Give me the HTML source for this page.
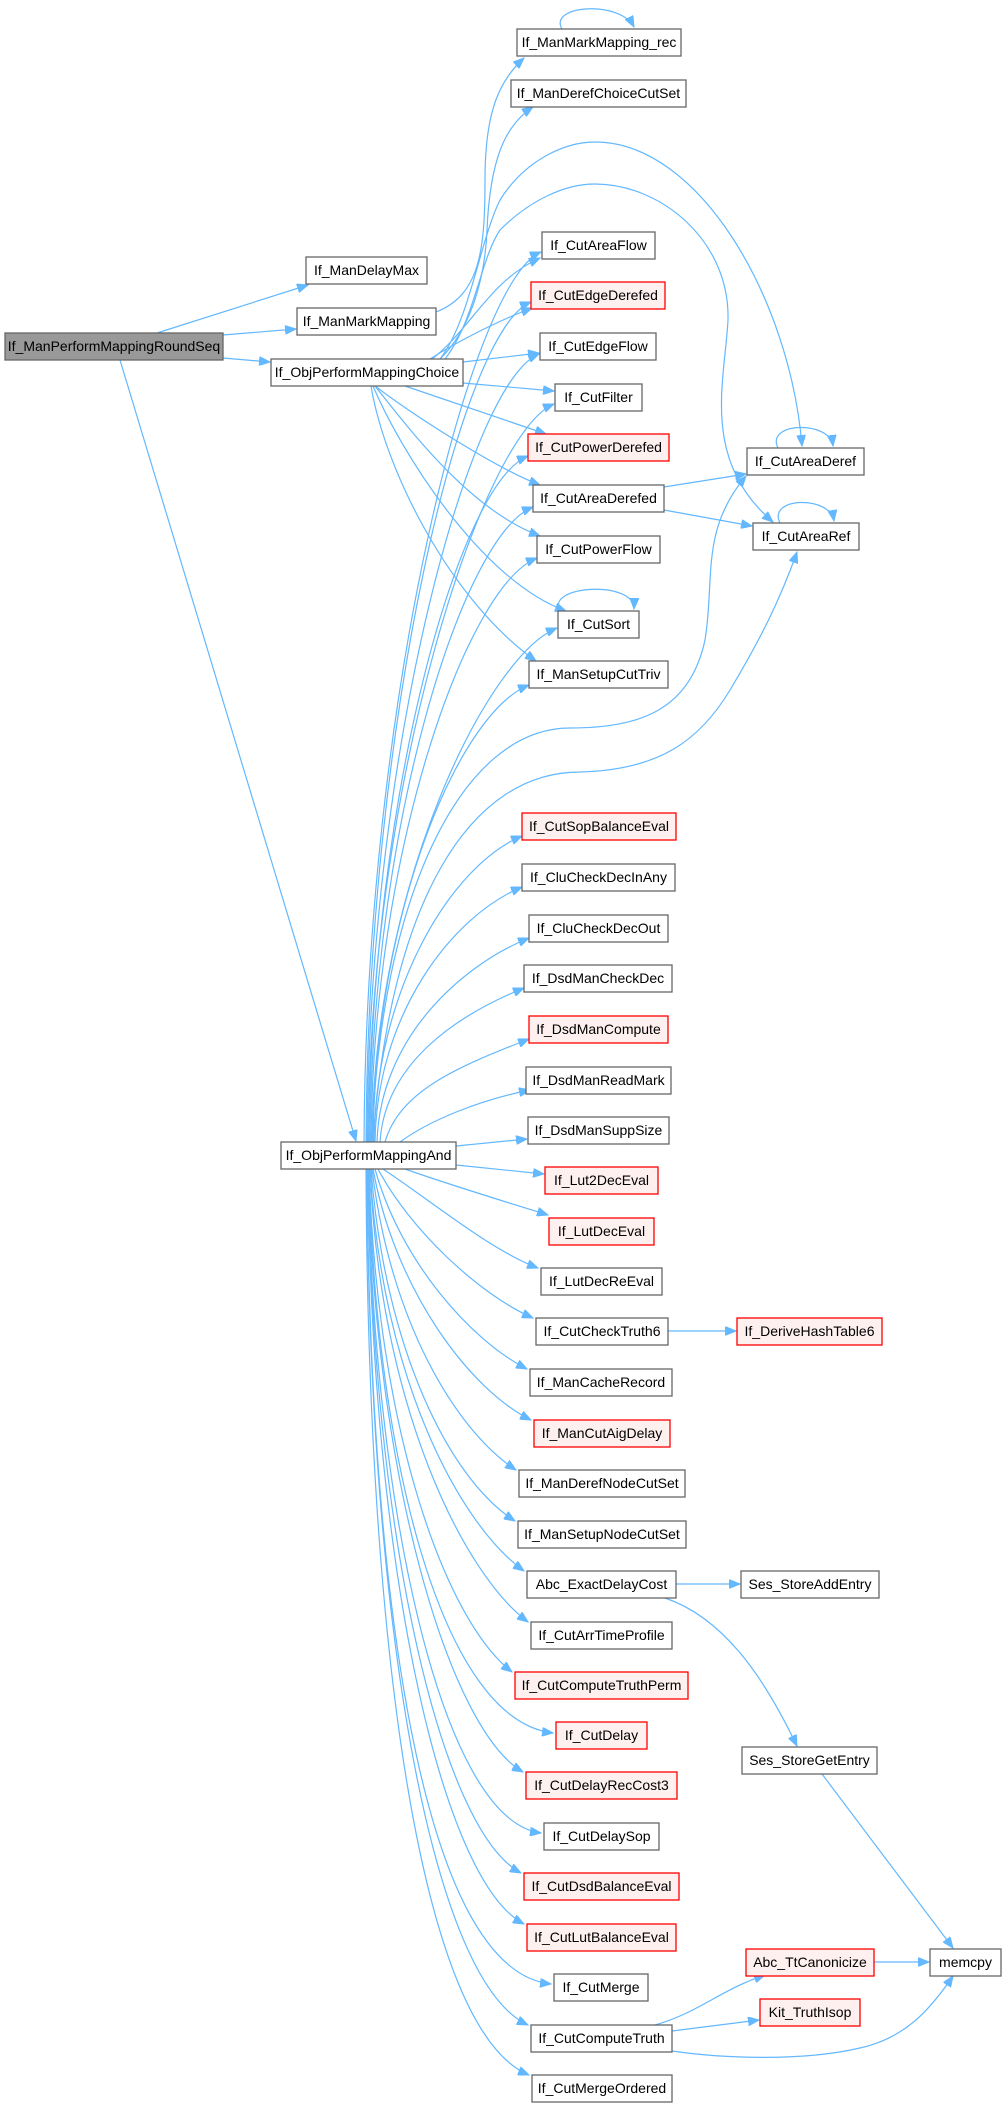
<!DOCTYPE html>
<html><head><meta charset="utf-8"><style>
html,body{margin:0;padding:0;background:#fff;}
svg{display:block;}
text{font-family:"Liberation Sans",Arial,sans-serif;font-size:14px;fill:#000;text-anchor:middle;}
.e{fill:none;stroke:#63b8ff;stroke-width:1.2;marker-end:url(#a);}
.n{fill:#fff;stroke:#666;stroke-width:1.3;}
.r{fill:#fff0f0;stroke:#ff0000;stroke-width:1.3;}
.g{fill:#999;stroke:#666;stroke-width:1.3;}
</style></head><body>
<svg width="1002" height="2112" viewBox="0 0 1002 2112" xmlns="http://www.w3.org/2000/svg">
<defs><marker id="a" markerUnits="userSpaceOnUse" markerWidth="12" markerHeight="9" refX="11" refY="4.5" orient="auto"><path d="M0,0 L11,4.5 L0,9 z" fill="#63b8ff" stroke="#63b8ff"/></marker></defs>

<!-- edges -->
<path class="e" d="M157,333 L308,285"/>
<path class="e" d="M223,335 L296,329"/>
<path class="e" d="M223,358 L270,362"/>
<path class="e" d="M120,360 L356,1141"/>
<path class="e" d="M436,312 C480,295 485,250 485,180 C485,110 500,80 524,58"/>
<path class="e" d="M562,29 C548,5 620,0 634,27"/>
<path class="e" d="M440,359 C470,330 485,280 487,230 C490,160 505,125 533,107"/>
<path class="e" d="M432,359 C470,330 490,280 540,258"/>
<path class="e" d="M430,359 C460,340 500,320 532,308"/>
<path class="e" d="M463,362 L539,353"/>
<path class="e" d="M463,383 L554,391"/>
<path class="e" d="M405,386 L546,434"/>
<path class="e" d="M375,386 C420,420 500,470 540,485"/>
<path class="e" d="M375,386 C410,430 470,510 540,536"/>
<path class="e" d="M373,386 C400,450 480,580 566,611"/>
<path class="e" d="M371,386 C385,470 450,600 536,661"/>
<path class="e" d="M440,359 C470,320 480,240 500,200 C525,160 565,142 595,142 C700,142 790,300 802,446"/>
<path class="e" d="M445,359 C475,320 480,260 500,230 C530,200 565,184 595,184 C660,184 730,240 728,320 C725,380 700,460 773,522"/>
<path class="e" d="M664,487 L746,474"/>
<path class="e" d="M664,510 L752,526"/>
<path class="e" d="M778,448 C765,422 830,420 833,446"/>
<path class="e" d="M780,523 C767,497 830,495 834,521"/>
<path class="e" d="M560,611 C545,585 635,580 634,609"/>

<!-- And -> upper -->
<path class="e" d="M364,1142 C366,696 472,280 541,252"/>
<path class="e" d="M366,1142 C368,721 461,330 531,302"/>
<path class="e" d="M367,1142 C369,747 470,382 539,354"/>
<path class="e" d="M368,1142 C370,772 485,432 554,404"/>
<path class="e" d="M369,1142 C371,798 458,485 528,456"/>
<path class="e" d="M370,1142 C372,823 463,535 533,507"/>
<path class="e" d="M371,1142 C373,849 467,586 537,558"/>
<path class="e" d="M372,1142 C374,884 488,656 557,628"/>
<path class="e" d="M373,1142 C375,912 459,713 529,685"/>
<path class="e" d="M372,1142 C380,900 460,728 570,728 C640,728 690,710 705,640 C715,580 700,530 746,476"/>
<path class="e" d="M373,1142 C390,900 470,772 580,772 C660,770 700,740 730,690 C760,640 780,600 797,552"/>
<path class="e" d="M374,1142 C376,988 452,865 522,836"/>
<path class="e" d="M375,1142 C377,1014 452,916 522,887"/>
<path class="e" d="M377,1142 C380,1039 460,966 529,938"/>
<path class="e" d="M380,1142 C385,1064 455,1016 524,988"/>
<path class="e" d="M385,1142 C400,1090 460,1066 529,1039"/>
<path class="e" d="M400,1142 C430,1120 480,1100 530,1090"/>
<path class="e" d="M456,1146 L527,1139"/>

<!-- And -> lower -->
<path class="e" d="M456,1165 L544,1174"/>
<path class="e" d="M405,1169 C450,1185 500,1200 548,1215"/>
<path class="e" d="M383,1169 C430,1200 490,1250 538,1268"/>
<path class="e" d="M378,1169 C410,1230 480,1295 533,1318"/>
<path class="e" d="M375,1169 C400,1260 470,1340 527,1369"/>
<path class="e" d="M373,1169 C395,1290 470,1390 531,1420"/>
<path class="e" d="M372,1169 C390,1320 455,1430 516,1470"/>
<path class="e" d="M371,1169 C385,1350 450,1480 515,1521"/>
<path class="e" d="M370,1169 C382,1380 460,1525 524,1571"/>
<path class="e" d="M370,1169 C380,1410 465,1575 528,1622"/>
<path class="e" d="M369,1169 C377,1430 445,1620 512,1672"/>
<path class="e" d="M369,1169 C375,1450 440,1720 553,1733"/>
<path class="e" d="M368,1169 C375,1480 450,1730 523,1772"/>
<path class="e" d="M368,1169 C373,1500 440,1820 541,1833"/>
<path class="e" d="M368,1169 C372,1530 440,1830 521,1873"/>
<path class="e" d="M368,1169 C371,1560 440,1880 524,1924"/>
<path class="e" d="M367,1169 C370,1590 420,1970 551,1984"/>
<path class="e" d="M367,1169 C369,1620 430,1980 528,2025"/>
<path class="e" d="M366,1169 C368,1650 420,2030 529,2075"/>

<path class="e" d="M668,1331 L736,1331"/>
<path class="e" d="M676,1584 L740,1584"/>
<path class="e" d="M665,1598 C730,1620 770,1690 797,1746"/>
<path class="e" d="M822,1774 L953,1948"/>
<path class="e" d="M874,1962 L929,1962"/>
<path class="e" d="M655,2025 C700,2012 720,1990 765,1975"/>
<path class="e" d="M672,2031 L759,2020"/>
<path class="e" d="M672,2051 C720,2058 800,2062 860,2048 C905,2038 930,2010 953,1976"/>

<!-- nodes -->
<g>
<rect class="g" x="5" y="333" width="218" height="27"/><text x="114" y="351">If_ManPerformMappingRoundSeq</text>
<rect class="n" x="306" y="257" width="121" height="27"/><text x="366.5" y="275">If_ManDelayMax</text>
<rect class="n" x="297" y="308" width="139" height="27"/><text x="366.5" y="326">If_ManMarkMapping</text>
<rect class="n" x="271" y="359" width="192" height="27"/><text x="367" y="377">If_ObjPerformMappingChoice</text>
<rect class="n" x="517" y="29" width="164" height="27"/><text x="599" y="47">If_ManMarkMapping_rec</text>
<rect class="n" x="511" y="80" width="175" height="27"/><text x="598.5" y="98">If_ManDerefChoiceCutSet</text>
<rect class="n" x="542" y="232" width="113" height="27"/><text x="598.5" y="250">If_CutAreaFlow</text>
<rect class="r" x="531" y="282" width="134" height="27"/><text x="598" y="300">If_CutEdgeDerefed</text>
<rect class="n" x="540" y="333" width="116" height="27"/><text x="598" y="351">If_CutEdgeFlow</text>
<rect class="n" x="555" y="384" width="87" height="27"/><text x="598.5" y="402">If_CutFilter</text>
<rect class="r" x="528" y="434" width="141" height="27"/><text x="598.5" y="452">If_CutPowerDerefed</text>
<rect class="n" x="533" y="485" width="131" height="27"/><text x="598.5" y="503">If_CutAreaDerefed</text>
<rect class="n" x="537" y="536" width="123" height="27"/><text x="598.5" y="554">If_CutPowerFlow</text>
<rect class="n" x="558" y="611" width="81" height="27"/><text x="598.5" y="629">If_CutSort</text>
<rect class="n" x="529" y="661" width="139" height="27"/><text x="598.5" y="679">If_ManSetupCutTriv</text>
<rect class="n" x="747" y="448" width="117" height="27"/><text x="805.5" y="466">If_CutAreaDeref</text>
<rect class="n" x="753" y="523" width="106" height="27"/><text x="806" y="541">If_CutAreaRef</text>
<rect class="r" x="522" y="813" width="154" height="27"/><text x="599" y="831">If_CutSopBalanceEval</text>
<rect class="n" x="522" y="864" width="153" height="27"/><text x="598.5" y="882">If_CluCheckDecInAny</text>
<rect class="n" x="529" y="915" width="139" height="27"/><text x="598.5" y="933">If_CluCheckDecOut</text>
<rect class="n" x="524" y="965" width="148" height="27"/><text x="598" y="983">If_DsdManCheckDec</text>
<rect class="r" x="529" y="1016" width="139" height="27"/><text x="598.5" y="1034">If_DsdManCompute</text>
<rect class="n" x="526" y="1067" width="145" height="27"/><text x="598.5" y="1085">If_DsdManReadMark</text>
<rect class="n" x="528" y="1117" width="141" height="27"/><text x="598.5" y="1135">If_DsdManSuppSize</text>
<rect class="n" x="281" y="1142" width="175" height="27"/><text x="368.5" y="1160">If_ObjPerformMappingAnd</text>
<rect class="r" x="545" y="1167" width="113" height="27"/><text x="601.5" y="1185">If_Lut2DecEval</text>
<rect class="r" x="549" y="1218" width="105" height="27"/><text x="601.5" y="1236">If_LutDecEval</text>
<rect class="n" x="541" y="1268" width="121" height="27"/><text x="601.5" y="1286">If_LutDecReEval</text>
<rect class="n" x="536" y="1318" width="132" height="27"/><text x="602" y="1336">If_CutCheckTruth6</text>
<rect class="r" x="737" y="1318" width="145" height="27"/><text x="809.5" y="1336">If_DeriveHashTable6</text>
<rect class="n" x="530" y="1369" width="142" height="27"/><text x="601" y="1387">If_ManCacheRecord</text>
<rect class="r" x="534" y="1420" width="136" height="27"/><text x="602" y="1438">If_ManCutAigDelay</text>
<rect class="n" x="519" y="1470" width="166" height="27"/><text x="602" y="1488">If_ManDerefNodeCutSet</text>
<rect class="n" x="518" y="1521" width="168" height="27"/><text x="602" y="1539">If_ManSetupNodeCutSet</text>
<rect class="n" x="527" y="1571" width="149" height="27"/><text x="601.5" y="1589">Abc_ExactDelayCost</text>
<rect class="n" x="741" y="1571" width="138" height="27"/><text x="810" y="1589">Ses_StoreAddEntry</text>
<rect class="n" x="531" y="1622" width="141" height="27"/><text x="601.5" y="1640">If_CutArrTimeProfile</text>
<rect class="r" x="515" y="1672" width="173" height="27"/><text x="601.5" y="1690">If_CutComputeTruthPerm</text>
<rect class="r" x="556" y="1722" width="91" height="27"/><text x="601.5" y="1740">If_CutDelay</text>
<rect class="n" x="742" y="1747" width="135" height="27"/><text x="809.5" y="1765">Ses_StoreGetEntry</text>
<rect class="r" x="526" y="1772" width="151" height="27"/><text x="601.5" y="1790">If_CutDelayRecCost3</text>
<rect class="n" x="544" y="1823" width="115" height="27"/><text x="601.5" y="1841">If_CutDelaySop</text>
<rect class="r" x="524" y="1873" width="155" height="27"/><text x="601.5" y="1891">If_CutDsdBalanceEval</text>
<rect class="r" x="527" y="1924" width="149" height="27"/><text x="601.5" y="1942">If_CutLutBalanceEval</text>
<rect class="r" x="746" y="1949" width="128" height="27"/><text x="810" y="1967">Abc_TtCanonicize</text>
<rect class="n" x="930" y="1949" width="71" height="27"/><text x="965.5" y="1967">memcpy</text>
<rect class="n" x="554" y="1974" width="94" height="27"/><text x="601" y="1992">If_CutMerge</text>
<rect class="r" x="760" y="1999" width="100" height="27"/><text x="810" y="2017">Kit_TruthIsop</text>
<rect class="n" x="531" y="2025" width="141" height="27"/><text x="601.5" y="2043">If_CutComputeTruth</text>
<rect class="n" x="532" y="2075" width="140" height="27"/><text x="602" y="2093">If_CutMergeOrdered</text>
</g>
</svg>
</body></html>
